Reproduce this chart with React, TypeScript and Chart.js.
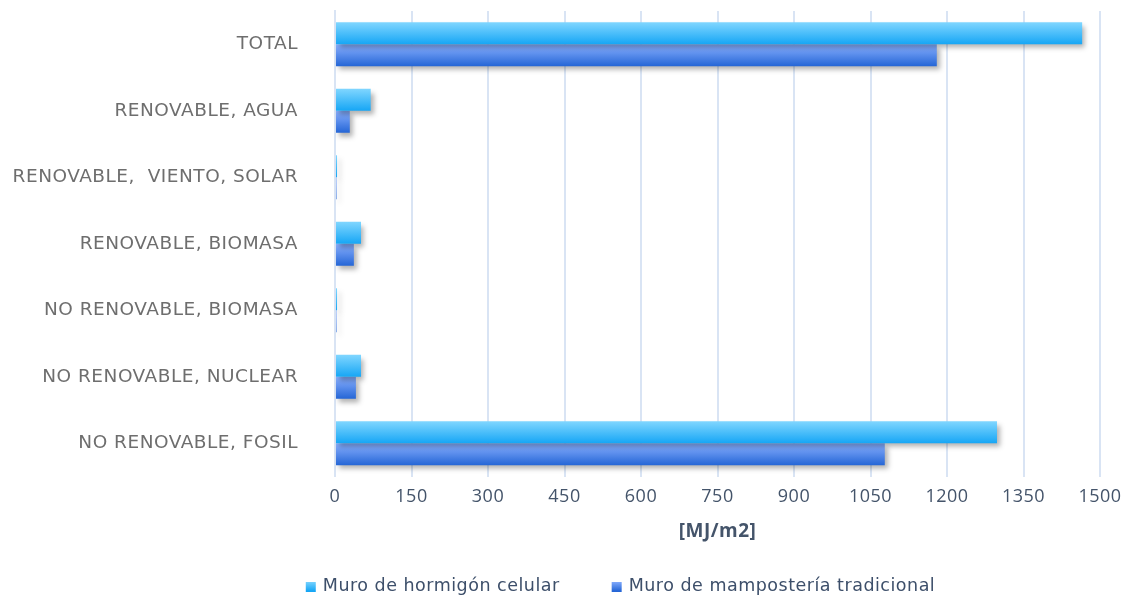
import React, { useEffect, useRef } from "react";
import { Chart, registerables } from "chart.js";

Chart.register(...registerables);

const categories = [
  "TOTAL",
  "RENOVABLE, AGUA",
  "RENOVABLE,  VIENTO, SOLAR",
  "RENOVABLE, BIOMASA",
  "NO RENOVABLE, BIOMASA",
  "NO RENOVABLE, NUCLEAR",
  "NO RENOVABLE, FOSIL",
];
const seriesNames = ["Muro de hormigón celular", "Muro de mampostería tradicional"];
const hormigonValues = [1465, 70, 4, 51, 4, 51, 1298];
const mamposteriaValues = [1180, 29, 3, 37, 3, 41, 1078];
const xTicks = [0, 150, 300, 450, 600, 750, 900, 1050, 1200, 1350, 1500];
const seriesGradients = [
  ["#80d6ff", "#16a6f5"],
  ["#8ab0ff", "#2566d6"],
];
const CAT_PCT = 0.66;
const LETTER_SPACING = "0.5px";

const gradientFill = (top: string, bottom: string) => (ctx: any) => {
  const chart = ctx.chart;
  const ys = chart.scales && chart.scales.y;
  if (!chart.chartArea || !ys || ctx.dataIndex === undefined) return bottom;
  const center = ys.getPixelForValue(ctx.dataIndex);
  const catH = ys.height / categories.length;
  const barH = (catH * CAT_PCT) / 2;
  const y0 = ctx.datasetIndex === 0 ? center - barH : center;
  if (!isFinite(y0) || !isFinite(barH) || barH <= 0) return bottom;
  const g = chart.ctx.createLinearGradient(0, y0, 0, y0 + barH);
  g.addColorStop(0, top);
  g.addColorStop(1, bottom);
  return g;
};

const spacingPlugin = {
  id: "letterSpacing",
  beforeLayout(chart: any) {
    chart.ctx.letterSpacing = LETTER_SPACING;
  },
  beforeDraw(chart: any) {
    chart.ctx.letterSpacing = LETTER_SPACING;
  },
};

const shadowPlugin = {
  id: "barShadow",
  beforeDatasetsDraw(chart: any) {
    const c = chart.ctx;
    c.save();
    c.shadowColor = "rgba(0,0,0,0.3)";
    c.shadowBlur = 5;
    c.shadowOffsetX = 3;
    c.shadowOffsetY = 4;
  },
  afterDatasetsDraw(chart: any) {
    chart.ctx.restore();
  },
};

const LEGEND_FONT = "17.5px 'DejaVu Sans'";
const legendPlugin = {
  id: "customLegend",
  afterDraw(chart: any) {
    const c = chart.ctx;
    c.save();
    c.letterSpacing = LETTER_SPACING;
    c.font = LEGEND_FONT;
    const box = 10;
    const boxGap = 7;
    const itemGap = 52;
    const widths = seriesNames.map((t) => c.measureText(t).width);
    const total = widths.reduce((a, w) => a + box + boxGap + w, 0) + itemGap * (seriesNames.length - 1);
    const cy = chart.height - 13;
    let x = (chart.chartArea.left + chart.chartArea.right) / 2 - total / 2 - 97;
    seriesNames.forEach((t, i) => {
      const g = c.createLinearGradient(0, cy - box / 2, 0, cy + box / 2);
      g.addColorStop(0, seriesGradients[i][0]);
      g.addColorStop(1, seriesGradients[i][1]);
      c.fillStyle = g;
      c.fillRect(x, cy - box / 2 + 1, box, box);
      c.fillStyle = "#3d4f6a";
      c.textBaseline = "middle";
      c.textAlign = "left";
      c.fillText(t, x + box + boxGap, cy);
      x += box + boxGap + widths[i] + itemGap;
    });
    c.restore();
  },
};

export default function App() {
  const ref = useRef<HTMLCanvasElement>(null);
  useEffect(() => {
    if (!ref.current) return;
    const chart = new Chart(ref.current, {
      type: "bar",
      data: {
        labels: categories,
        datasets: [
          {
            label: seriesNames[0],
            data: hormigonValues,
            backgroundColor: gradientFill(seriesGradients[0][0], seriesGradients[0][1]),
            borderWidth: 0,
          },
          {
            label: seriesNames[1],
            data: mamposteriaValues,
            backgroundColor: gradientFill(seriesGradients[1][0], seriesGradients[1][1]),
            borderWidth: 0,
          },
        ],
      },
      plugins: [spacingPlugin, shadowPlugin, legendPlugin],
      options: {
        indexAxis: "y",
        animation: false,
        responsive: false,
        maintainAspectRatio: false,
        layout: { padding: { top: 11, right: 29, bottom: 26, left: 0 } },
        datasets: { bar: { barPercentage: 1, categoryPercentage: CAT_PCT } },
        scales: {
          x: {
            min: 0,
            max: 1500,
            afterBuildTicks: (s: any) => {
              s.ticks = xTicks.map((v) => ({ value: v }));
            },
            afterFit: (s: any) => {
              s.height = 96.5;
              s.paddingLeft = 0;
              s.paddingRight = 0;
            },
            grid: { color: "#d9e4f4", lineWidth: 2, drawTicks: false },
            border: { display: false },
            ticks: {
              color: "#44546a",
              font: { family: "Open Sans", size: 18 },
              padding: 10,
              maxRotation: 0,
              minRotation: 0,
              autoSkip: false,
              callback: (v: any) => String(v),
            },
            title: {
              display: true,
              text: "[MJ/m2]",
              color: "#44546a",
              font: { family: "Open Sans", size: 19, weight: "bold" },
              padding: { top: 0, bottom: 30 },
            },
          },
          y: {
            grid: { display: false, drawTicks: false },
            border: { display: true, color: "#d9e4f4", width: 2 },
            afterFit: (s: any) => {
              s.width = 335;
              s.paddingTop = 0;
              s.paddingBottom = 0;
            },
            ticks: {
              color: "#6e6e6e",
              font: { family: "DejaVu Sans", size: 18.5 },
              padding: 37,
            },
          },
        },
        plugins: {
          legend: { display: false },
          tooltip: { enabled: false },
        },
      },
    } as any);
    return () => chart.destroy();
  }, []);
  return (
    <div style={{ position: "fixed", left: 0, top: 0, width: 1129, height: 599 }}>
      <canvas ref={ref} width={1129} height={599} style={{ width: 1129, height: 599, display: "block" }} />
    </div>
  );
}
